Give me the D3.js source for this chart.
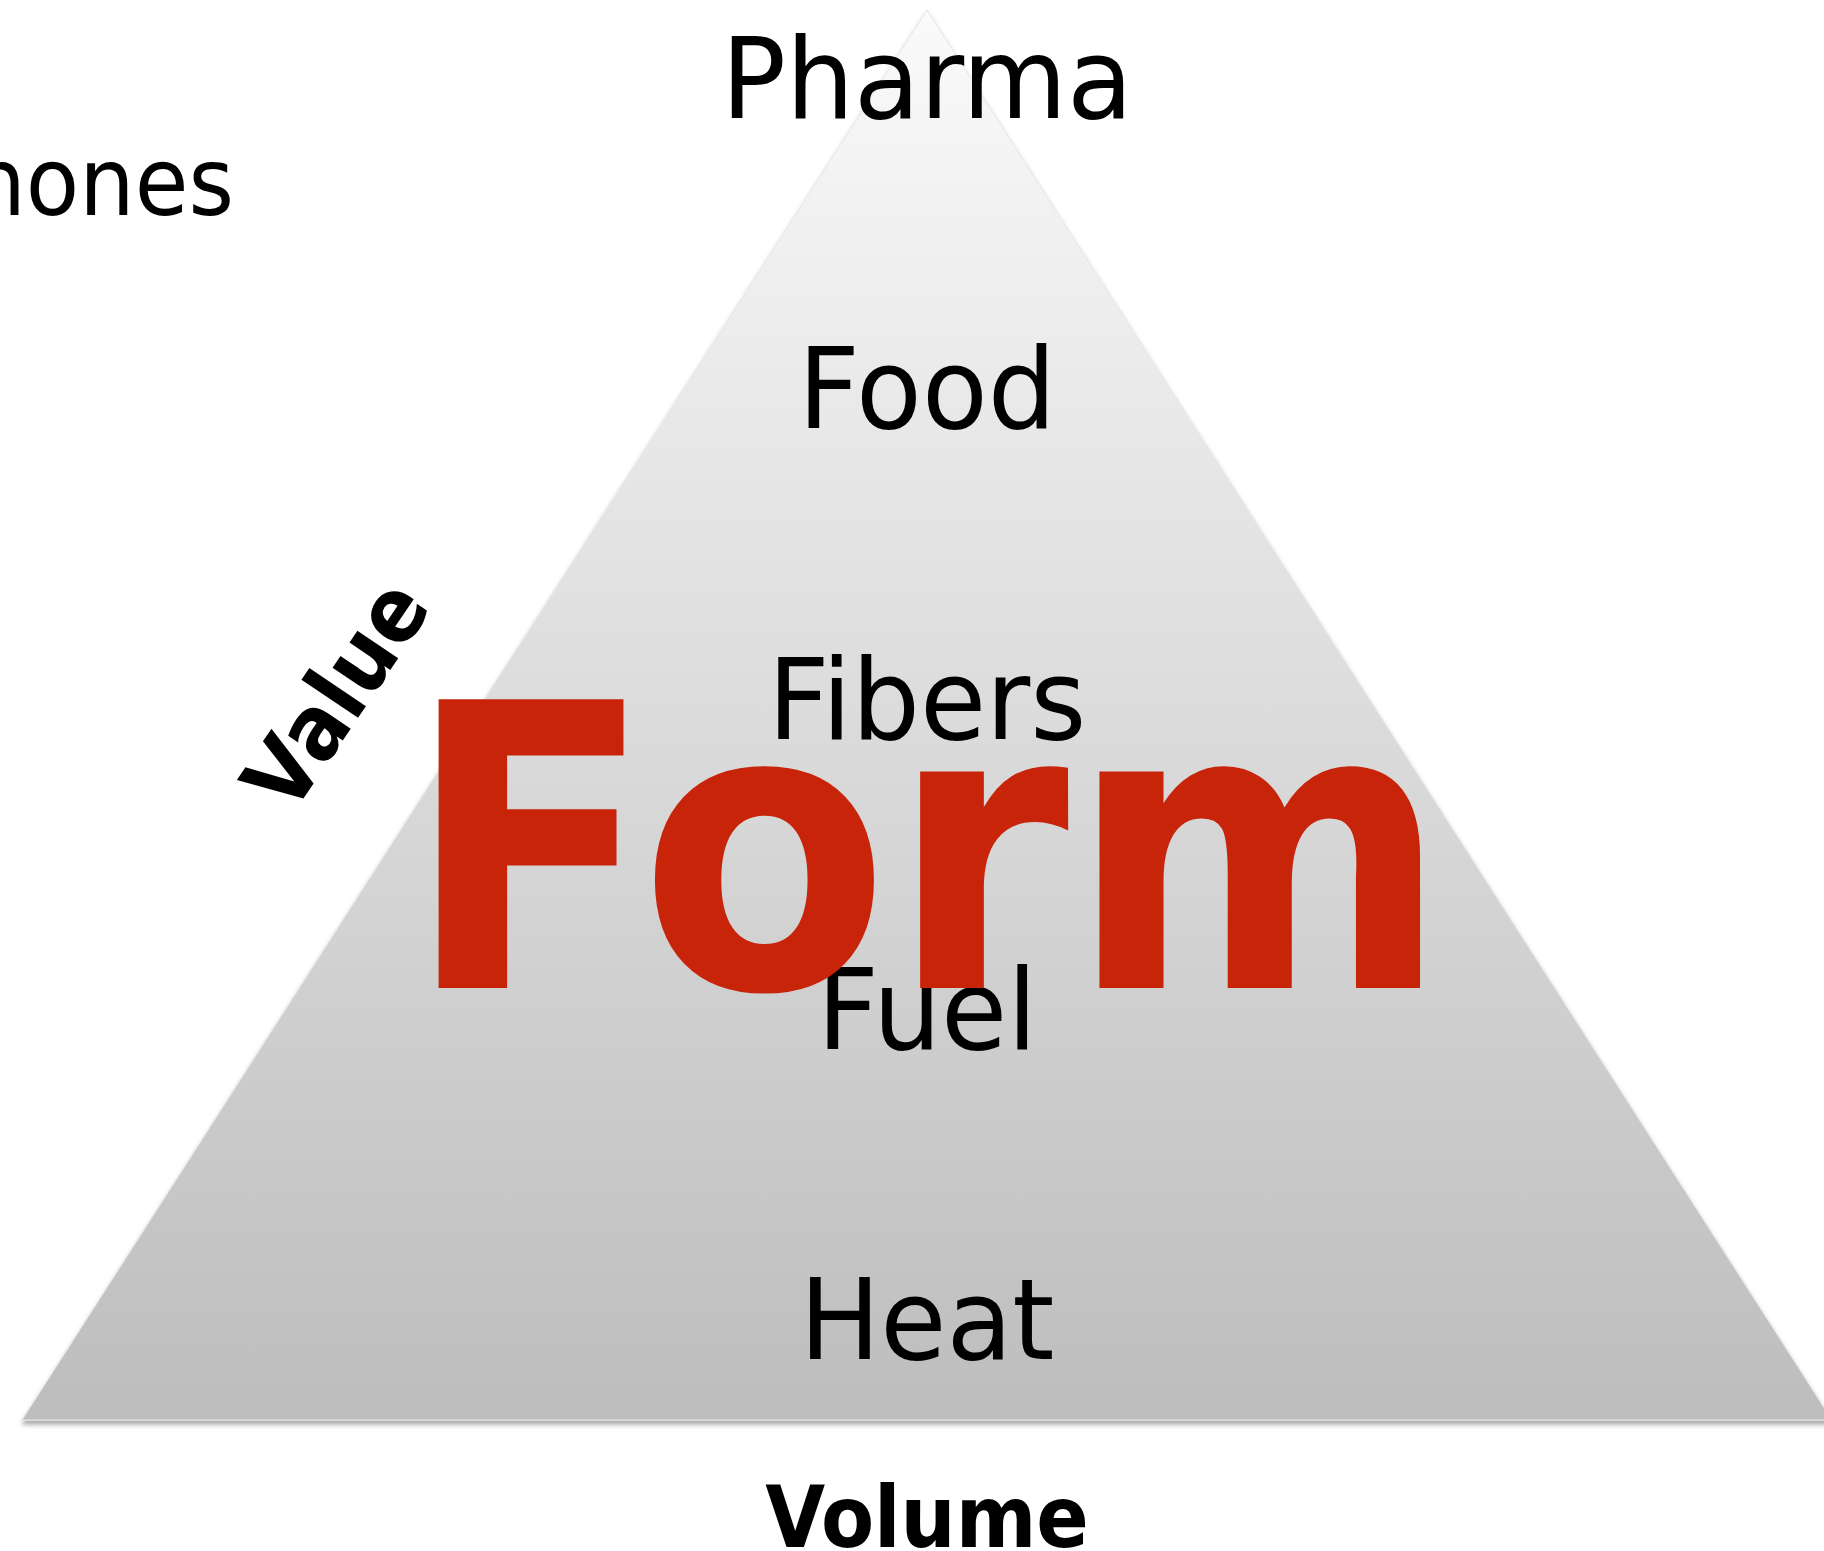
<!DOCTYPE html>
<html>
<head>
<meta charset="utf-8">
<script src="https://cdn.jsdelivr.net/npm/d3@7"></script>
<style>
  html, body { margin: 0; padding: 0; background: #fff; overflow: hidden; }
  svg { display: block; }
</style>
</head>
<body>
<svg></svg>
<script>
const width = 1824
const height = 1551

// pyramid levels, bottom to top
const levels = ['Heat', 'Fuel', 'Fibers', 'Food', 'Pharma']
const sideLabels = ['Phones']
const axisLabels = ['Value', 'Volume']
const centerWord = ['Form']

// triangle corners in (volume, value) units
const corners = [[-1, 0], [1, 0], [0, 1]]

const fontFamily = '"DejaVu Sans", Verdana, sans-serif'

const svg = d3.select('svg')
  .attr('width', width)
  .attr('height', height)
  .attr('viewBox', [0, 0, width, height])

const x = d3.scaleLinear().domain([-1, 1]).range([22, 1832])
const y = d3.scaleLinear().domain([0, 1]).range([1420, 10])
const levelY = d3.scalePoint().domain(levels).range([1359, 118])
const cx = x(0)

const defs = svg.append('defs')
const grad = defs.append('linearGradient')
  .attr('id', 'fill')
  .attr('gradientUnits', 'userSpaceOnUse')
  .attr('x1', 0).attr('x2', 0)
  .attr('y1', y(1)).attr('y2', y(0))
grad.append('stop').attr('offset', 0).attr('stop-color', '#fafafa')
grad.append('stop').attr('offset', 1).attr('stop-color', '#bdbdbd')

const shadow = defs.append('filter')
  .attr('id', 'shadow')
  .attr('x', -0.05).attr('y', -0.05)
  .attr('width', 1.1).attr('height', 1.1)
shadow.append('feDropShadow')
  .attr('dx', 0).attr('dy', 4)
  .attr('stdDeviation', 2.5)
  .attr('flood-color', '#000')
  .attr('flood-opacity', 0.35)

svg.append('path')
  .datum(corners)
  .attr('d', d => d3.line().x(p => x(p[0])).y(p => y(p[1]))(d) + 'Z')
  .attr('fill', 'url(#fill)')
  .attr('stroke', '#e6e6e6')
  .attr('stroke-width', 1)
  .attr('filter', 'url(#shadow)')

// helper: slightly squeezed text anchored at (px, py)
function label(g, text, px, py, size, opts = {}) {
  const sx = opts.squeeze || 0.96
  const t = g.append('g')
    .attr('transform', `translate(${px},${py}) rotate(${opts.rotate || 0}) scale(${sx},1)`)
    .append('text')
    .attr('text-anchor', opts.anchor || 'middle')
    .attr('font-family', fontFamily)
    .attr('font-size', size)
    .attr('font-weight', opts.bold ? 'bold' : 'normal')
    .attr('fill', opts.fill || '#000')
    .text(text)
  if (opts.dy) t.attr('dy', opts.dy)
  return t
}

const layer = svg.append('g')

// level names
levels.forEach(d => label(layer, d, cx, levelY(d), 112))

// side label, cut off at the left edge
sideLabels.forEach(d => label(layer, d, 234, 215, 95, { anchor: 'end', squeeze: 0.92 }))

// big red word
centerWord.forEach(d => label(layer, d, cx, 988, 396, { bold: true, fill: '#c8240a', squeeze: 0.92 }))

// axis titles
label(layer, axisLabels[0], 335, 694, 90, { bold: true, rotate: -56, dy: '0.36em', squeeze: 0.9 })
label(layer, axisLabels[1], cx, 1547, 86, { bold: true, squeeze: 0.9 })
</script>
</body>
</html>
